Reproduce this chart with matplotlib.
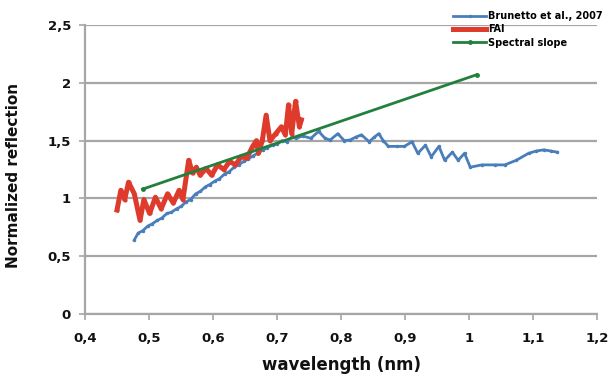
import matplotlib
matplotlib.use("Agg")
import matplotlib.pyplot as plt
from matplotlib.ticker import FuncFormatter

# Data (wavelength, normalized reflection)
brunetto_x = [0.477, 0.483, 0.490, 0.498, 0.505, 0.513, 0.520, 0.528, 0.535, 0.543,
              0.550, 0.558, 0.565, 0.573, 0.580, 0.588, 0.595, 0.603, 0.610, 0.618,
              0.625, 0.633, 0.640, 0.648, 0.655, 0.663, 0.670, 0.678, 0.685, 0.693,
              0.700, 0.708, 0.715, 0.723, 0.730, 0.740, 0.753, 0.765, 0.775, 0.783,
              0.795, 0.805, 0.814, 0.823, 0.832, 0.844, 0.852, 0.859, 0.866, 0.874,
              0.887, 0.899, 0.911, 0.920, 0.932, 0.941, 0.953, 0.962, 0.974, 0.983,
              0.993, 1.002, 1.020, 1.040, 1.056, 1.074, 1.093, 1.105, 1.117, 1.128,
              1.138]
brunetto_y = [0.64, 0.70, 0.72, 0.76, 0.78, 0.81, 0.83, 0.87, 0.88, 0.91,
              0.93, 0.97, 0.99, 1.04, 1.06, 1.10, 1.12, 1.15, 1.17, 1.21,
              1.23, 1.27, 1.29, 1.32, 1.34, 1.37, 1.39, 1.42, 1.44, 1.46,
              1.47, 1.50, 1.49, 1.53, 1.52, 1.54, 1.52, 1.58, 1.52, 1.505,
              1.56, 1.50, 1.505, 1.53, 1.55, 1.49, 1.53, 1.56, 1.50, 1.45,
              1.45, 1.45, 1.49, 1.39, 1.46, 1.36, 1.45, 1.33, 1.40, 1.33,
              1.39, 1.27, 1.29, 1.29, 1.29, 1.33, 1.39, 1.41, 1.42, 1.41,
              1.40]

fai_x = [0.450, 0.456, 0.462, 0.468, 0.477, 0.486, 0.492, 0.501, 0.510, 0.519,
         0.529, 0.538, 0.547, 0.553, 0.562, 0.568, 0.574, 0.580, 0.589, 0.598,
         0.607, 0.617, 0.626, 0.635, 0.644, 0.653, 0.662, 0.668, 0.671, 0.677,
         0.683, 0.689, 0.698, 0.707, 0.713, 0.718, 0.723, 0.729, 0.735, 0.738]
fai_y = [0.90, 1.07, 0.99, 1.14, 1.04, 0.81, 0.99, 0.87, 1.01, 0.91,
         1.04, 0.96, 1.07, 0.99, 1.33, 1.22, 1.27, 1.20, 1.26, 1.20,
         1.29, 1.25, 1.32, 1.29, 1.36, 1.35, 1.45, 1.50, 1.39, 1.50,
         1.72, 1.50, 1.56, 1.62, 1.55, 1.81, 1.56, 1.84, 1.62, 1.68]

slope_x = [0.490, 1.012]
slope_y = [1.08, 2.07]

x_ticks = [0.4, 0.5, 0.6, 0.7, 0.8, 0.9, 1.0, 1.1, 1.2]
y_ticks = [0, 0.5, 1.0, 1.5, 2.0, 2.5]

BLUE = "#4a7ebb"
RED = "#de3b2c"
GREEN = "#23803c"
GRID = "#a6a6a6"


def comma_fmt(v, pos):
    """Excel-style decimal comma labels."""
    s = f"{v:g}"
    return s.replace(".", ",")


fig = plt.figure(figsize=(6.10, 3.74), dpi=100)
ax = fig.add_axes([85 / 610, 60 / 374, 512 / 610, 289 / 374])

ax.plot(brunetto_x, brunetto_y, color=BLUE, lw=2.0, marker="o", ms=1.5,
        label="Brunetto et al., 2007", zorder=3)
ax.plot(fai_x, fai_y, color=RED, lw=3.6, marker="o", ms=2.0,
        label="FAI", zorder=4)
ax.plot(slope_x, slope_y, color=GREEN, lw=2.0, marker="o", ms=2.5,
        label="Spectral slope", zorder=5)

ax.set_xlim(0.4, 1.2)
ax.set_ylim(0, 2.5)
ax.set_xticks(x_ticks)
ax.set_yticks(y_ticks)
ax.xaxis.set_major_formatter(FuncFormatter(comma_fmt))
ax.yaxis.set_major_formatter(FuncFormatter(comma_fmt))

ax.grid(axis="y", color=GRID, lw=1.6)
ax.set_axisbelow(True)
for side in ["top", "right"]:
    ax.spines[side].set_visible(False)
for side in ["left", "bottom"]:
    ax.spines[side].set_color(GRID)
    ax.spines[side].set_linewidth(1.6)

ax.tick_params(axis="both", colors=GRID, length=4, width=1.2, labelcolor="#111111",
               labelsize=9.5)
ax.tick_params(axis="x", pad=9)
ax.tick_params(axis="y", pad=6)
for lab in ax.get_xticklabels() + ax.get_yticklabels():
    lab.set_fontweight("bold")

ax.set_xlabel("wavelength (nm)", fontsize=12, fontweight="bold", color="#111111")
ax.xaxis.set_label_coords(0.5, -0.145)
ax.set_ylabel("Normalized reflection", fontsize=11, fontweight="bold", color="#111111")
ax.yaxis.set_label_coords(-0.125, 0.48)

leg = ax.legend(loc="upper left", bbox_to_anchor=(453 / 610, 1 - 11 / 374),
                bbox_transform=fig.transFigure, frameon=False, fontsize=7,
                borderpad=0, borderaxespad=0, handlelength=3.4, handletextpad=0.2,
                labelspacing=0.35,
                prop={"family": ["Liberation Sans Narrow", "DejaVu Sans"],
                      "weight": "bold", "size": 7})

fig.savefig("out.png", dpi=100)
